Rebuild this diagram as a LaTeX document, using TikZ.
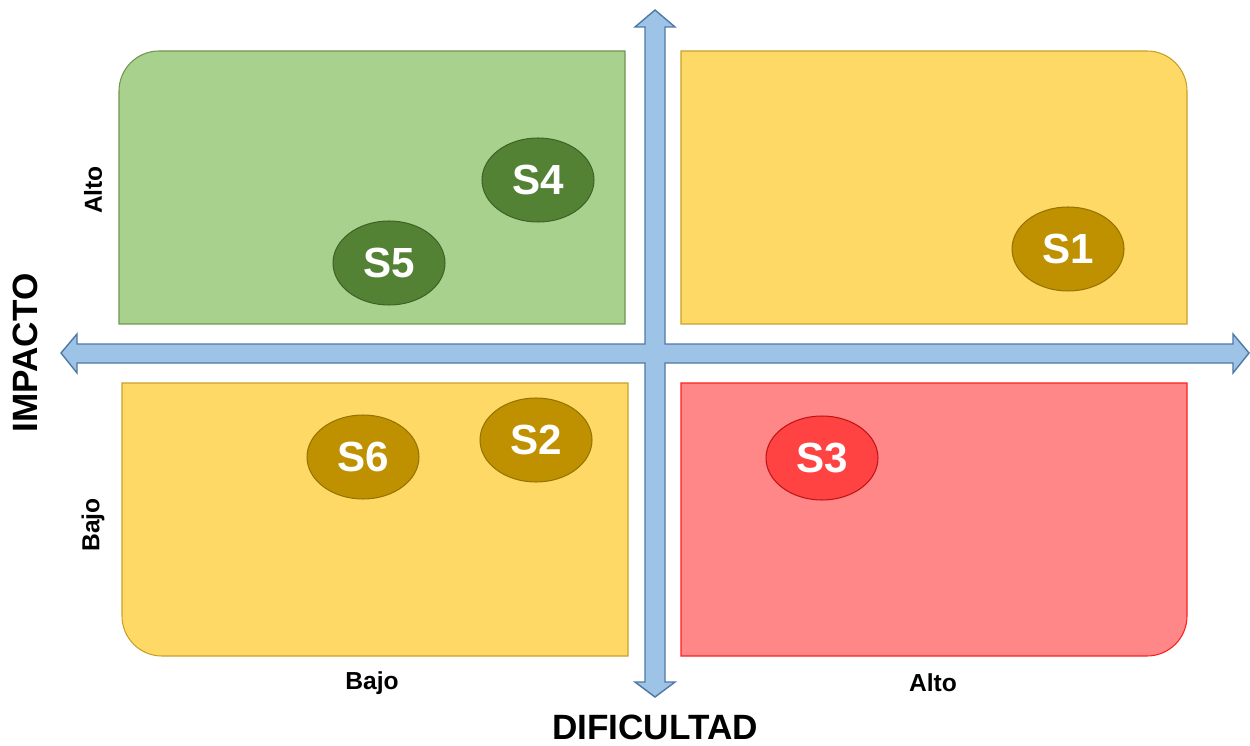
\documentclass[tikz,border=0pt]{standalone}
\usepackage{fontspec}
\setmainfont{Liberation Sans}
\usepackage{tikz}
\usetikzlibrary{shapes.geometric, positioning}
\definecolor{qgreen}{RGB}{169, 209, 142}
\definecolor{qgreenline}{RGB}{112, 150, 80}
\definecolor{qyellow}{RGB}{255, 217, 102}
\definecolor{qyellowline}{RGB}{200, 160, 40}
\definecolor{qred}{RGB}{255, 135, 135}
\definecolor{qredline}{RGB}{255, 30, 30}
\definecolor{sgreen}{RGB}{84, 130, 53}
\definecolor{sgreenline}{RGB}{60, 100, 40}
\definecolor{sgold}{RGB}{191, 144, 0}
\definecolor{sgoldline}{RGB}{150, 115, 0}
\definecolor{sred}{RGB}{255, 67, 67}
\definecolor{sredline}{RGB}{190, 20, 20}
\definecolor{axisfill}{RGB}{157, 195, 230}
\definecolor{axisline}{RGB}{80, 120, 165}

\begin{document}
\begin{tikzpicture}[
    x=0.02cm, y=-0.02cm,
    quad/.style={line width=0.6pt},
    sol/.style={ellipse, draw, line width=0.6pt, minimum width=2.24cm, minimum height=1.68cm, inner sep=0pt, text=white, font=\bfseries\fontsize{24}{28}\selectfont},
    lvl/.style={font=\bfseries\fontsize{14}{16}\selectfont},
    axislabel/.style={font=\bfseries\fontsize{20}{24}\selectfont}
]
    \useasboundingbox (0,0) rectangle (1250,746);

    % quadrants
    \draw[quad, fill=qgreen, draw=qgreenline] (625,324) -- (119,324) [rounded corners=0.8cm] -- (119,51) [sharp corners] -- (625,51) -- cycle;
    \draw[quad, fill=qyellow, draw=qyellowline] (681,324) -- (681,51) [rounded corners=0.8cm] -- (1187,51) [sharp corners] -- (1187,324) -- cycle;
    \draw[quad, fill=qyellow, draw=qyellowline] (628,383) -- (122,383) [rounded corners=0.8cm] -- (122,656) [sharp corners] -- (628,656) -- cycle;
    \draw[quad, fill=qred, draw=qredline] (681,383) -- (1187,383) [rounded corners=0.8cm] -- (1187,656) [sharp corners] -- (681,656) -- cycle;

    % axes
    \draw[line width=0.8pt, fill=axisfill, draw=axisline, line join=miter]
        (655,10) -- (675,27) -- (665,27) -- (665,344) -- (1233,344) -- (1233,334) -- (1249,353)
        -- (1233,373) -- (1233,363) -- (665,363) -- (665,682) -- (675,682) -- (655,697)
        -- (635,682) -- (645,682) -- (645,363) -- (77,363) -- (77,373) -- (61,353)
        -- (77,334) -- (77,344) -- (645,344) -- (645,27) -- (635,27) -- cycle;

    % solutions
    \node[sol, fill=sgreen, draw=sgreenline] (s4) at (538,180) {S4};
    \node[sol, fill=sgreen, draw=sgreenline] (s5) at (389,263) {S5};
    \node[sol, fill=sgold, draw=sgoldline] (s1) at (1068,249) {S1};
    \node[sol, fill=sgold, draw=sgoldline] (s6) at (363,457) {S6};
    \node[sol, fill=sgold, draw=sgoldline] (s2) at (536,440) {S2};
    \node[sol, fill=sred, draw=sredline] (s3) at (822,458) {S3};

    % labels
    \node[lvl, rotate=90] (impalto) at (93,190) {Alto};
    \node[lvl, rotate=90] (impbajo) at (93,525) {Bajo};
    \node[axislabel, rotate=90] (impacto) at (25,353) {IMPACTO};
    \node[lvl] (difbajo) at (372,683) {Bajo};
    \node[lvl] (difalto) at (933,683) {Alto};
    \node[axislabel] (dificultad) at (655,727) {DIFICULTAD};
\end{tikzpicture}
\end{document}
